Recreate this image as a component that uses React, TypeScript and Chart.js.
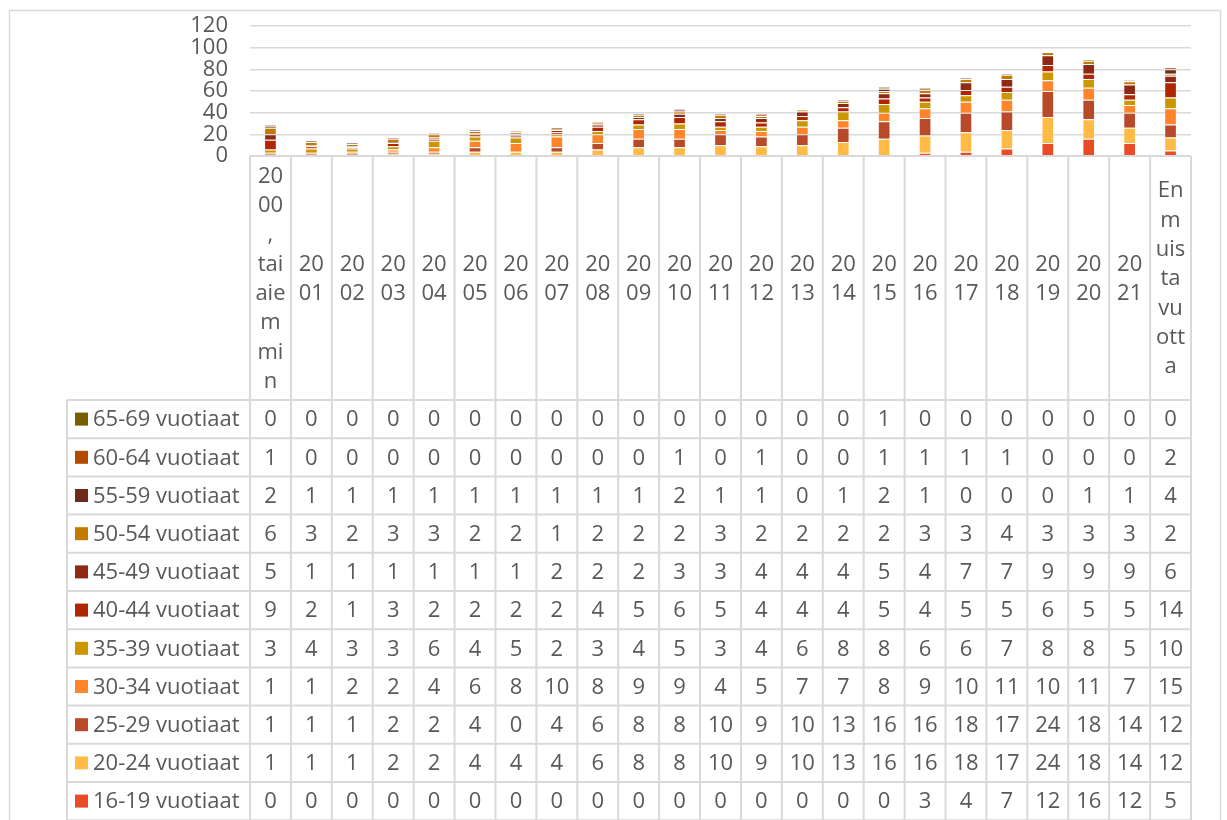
import React, { useEffect, useRef } from "react";
import { Chart, registerables } from "chart.js";

Chart.register(...registerables);

const categories: string[] = [
  "2000, tai aiemmin", "2001", "2002", "2003", "2004", "2005", "2006", "2007",
  "2008", "2009", "2010", "2011", "2012", "2013", "2014", "2015", "2016",
  "2017", "2018", "2019", "2020", "2021", "En muista vuotta",
];

// How the header cells wrap in the narrow data-table columns
const wrappedHeaders: Record<string, string[]> = {
  "2000, tai aiemmin": ["20", "00", ",", "tai", "aie", "m", "mi", "n"],
  "En muista vuotta": ["En", "m", "uis", "ta", "vu", "ott", "a"],
};

const yTicks: number[] = [0, 20, 40, 60, 80, 100, 120];

const age16_19 = [0, 0, 0, 0, 0, 0, 0, 0, 0, 0, 0, 0, 0, 0, 0, 0, 3, 4, 7, 12, 16, 12, 5];
const age20_24 = [1, 1, 1, 2, 2, 4, 4, 4, 6, 8, 8, 10, 9, 10, 13, 16, 16, 18, 17, 24, 18, 14, 12];
const age25_29 = [1, 1, 1, 2, 2, 4, 0, 4, 6, 8, 8, 10, 9, 10, 13, 16, 16, 18, 17, 24, 18, 14, 12];
const age30_34 = [1, 1, 2, 2, 4, 6, 8, 10, 8, 9, 9, 4, 5, 7, 7, 8, 9, 10, 11, 10, 11, 7, 15];
const age35_39 = [3, 4, 3, 3, 6, 4, 5, 2, 3, 4, 5, 3, 4, 6, 8, 8, 6, 6, 7, 8, 8, 5, 10];
const age40_44 = [9, 2, 1, 3, 2, 2, 2, 2, 4, 5, 6, 5, 4, 4, 4, 5, 4, 5, 5, 6, 5, 5, 14];
const age45_49 = [5, 1, 1, 1, 1, 1, 1, 2, 2, 2, 3, 3, 4, 4, 4, 5, 4, 7, 7, 9, 9, 9, 6];
const age50_54 = [6, 3, 2, 3, 3, 2, 2, 1, 2, 2, 2, 3, 2, 2, 2, 2, 3, 3, 4, 3, 3, 3, 2];
const age55_59 = [2, 1, 1, 1, 1, 1, 1, 1, 1, 1, 2, 1, 1, 0, 1, 2, 1, 0, 0, 0, 1, 1, 4];
const age60_64 = [1, 0, 0, 0, 0, 0, 0, 0, 0, 0, 1, 0, 1, 0, 0, 1, 1, 1, 1, 0, 0, 0, 2];
const age65_69 = [0, 0, 0, 0, 0, 0, 0, 0, 0, 0, 0, 0, 0, 0, 0, 1, 0, 0, 0, 0, 0, 0, 0];

const seriesNames: string[] = [
  "16-19 vuotiaat", "20-24 vuotiaat", "25-29 vuotiaat", "30-34 vuotiaat",
  "35-39 vuotiaat", "40-44 vuotiaat", "45-49 vuotiaat", "50-54 vuotiaat",
  "55-59 vuotiaat", "60-64 vuotiaat", "65-69 vuotiaat",
];
const seriesValues: number[][] = [
  age16_19, age20_24, age25_29, age30_34, age35_39, age40_44,
  age45_49, age50_54, age55_59, age60_64, age65_69,
];
const seriesColors: string[] = [
  "#E84B25", "#FFBB46", "#B84A2A", "#FF842A", "#CC9600", "#B02600",
  "#8E2A14", "#C47A00", "#6E2B1B", "#B24A00", "#7A5C00",
];

const FONT = '"Open Sans", "Noto Sans", sans-serif';
const TEXT = "#595959";
const LINE = "#d9d9d9";

const tablePlugin = {
  id: "dataTable",
  beforeDraw(chart: any) {
    const ctx = chart.ctx;
    ctx.save();
    ctx.strokeStyle = LINE;
    ctx.lineWidth = 1.5;
    ctx.strokeRect(9.5, 10.5, 1211, 900);
    ctx.restore();
  },
  afterDraw(chart: any) {
    const ctx = chart.ctx;
    const area = chart.chartArea;
    const xs = chart.scales.x;
    const n = categories.length;
    const colW = (area.right - area.left) / n;
    const top = area.bottom;
    const headerBottom = 400;
    const rowH = 38.2;
    const legendLeft = 67;
    const nRows = seriesNames.length;
    const bottom = headerBottom + nRows * rowH;

    ctx.save();
    ctx.strokeStyle = LINE;
    ctx.lineWidth = 2;
    ctx.beginPath();
    for (let i = 0; i <= n; i++) {
      const x = area.left + i * colW;
      ctx.moveTo(x, top);
      ctx.lineTo(x, bottom + 5);
    }
    ctx.moveTo(area.left, top);
    ctx.lineTo(area.right, top);
    for (let r = 0; r <= nRows; r++) {
      const y = headerBottom + r * rowH;
      ctx.moveTo(legendLeft, y);
      ctx.lineTo(area.right, y);
    }
    ctx.moveTo(legendLeft, headerBottom);
    ctx.lineTo(legendLeft, bottom + 5);
    ctx.stroke();

    ctx.fillStyle = TEXT;
    ctx.font = `22px ${FONT}`;
    ctx.textAlign = "center";
    ctx.textBaseline = "middle";
    const lh = 29.3;
    const cyHeader = (top + headerBottom) / 2;
    categories.forEach((c, i) => {
      const lines = wrappedHeaders[c] || [c.slice(0, 2), c.slice(2)];
      const cx = xs.getPixelForValue(i);
      const start = cyHeader - ((lines.length - 1) * lh) / 2;
      lines.forEach((t, k) => ctx.fillText(t, cx, start + k * lh + 1));
    });

    for (let r = 0; r < nRows; r++) {
      const s = nRows - 1 - r;
      const cy = headerBottom + r * rowH + rowH / 2;
      ctx.fillStyle = seriesColors[s];
      ctx.fillRect(75, cy - 6.5, 13, 13);
      ctx.fillStyle = TEXT;
      ctx.textAlign = "left";
      ctx.fillText(seriesNames[s], 93, cy + 1);
      ctx.textAlign = "center";
      seriesValues[s].forEach((v, i) => {
        ctx.fillText(String(v), xs.getPixelForValue(i), cy + 1);
      });
    }
    ctx.restore();
  },
};

export default function App() {
  const ref = useRef<HTMLCanvasElement | null>(null);
  useEffect(() => {
    if (!ref.current) return;
    const chart = new Chart(ref.current, {
      type: "bar",
      data: {
        labels: categories,
        datasets: seriesNames.map((name, i) => ({
          label: name,
          data: seriesValues[i],
          backgroundColor: seriesColors[i],
          borderColor: "rgba(255,255,255,0.35)",
          borderWidth: 1,
          categoryPercentage: 1,
          barPercentage: 0.31,
        })),
      },
      options: {
        responsive: false,
        animation: false,
        devicePixelRatio: 1,
        layout: { padding: { left: 0, top: 26, right: 36, bottom: 664 } },
        plugins: { legend: { display: false }, tooltip: { enabled: false } },
        scales: {
          x: { display: false, stacked: true },
          y: {
            stacked: true,
            min: 0,
            max: 120,
            afterFit: (scale: any) => {
              scale.width = 250;
              scale.paddingTop = 0;
              scale.paddingBottom = 0;
            },
            afterBuildTicks: (scale: any) => {
              scale.ticks = yTicks.map((v) => ({ value: v }));
            },
            ticks: {
              color: TEXT,
              font: { family: FONT, size: 22 },
              padding: 22,
              autoSkip: false,
            },
            grid: { color: LINE, lineWidth: 1.5, drawTicks: false },
            border: { display: false },
          },
        },
      },
      plugins: [tablePlugin],
    });
    return () => chart.destroy();
  }, []);
  return (
    <div style={{ position: "fixed", left: 0, top: 0, width: 1227, height: 820, background: "#fff" }}>
      <canvas ref={ref} width={1227} height={820} style={{ display: "block" }} />
    </div>
  );
}
